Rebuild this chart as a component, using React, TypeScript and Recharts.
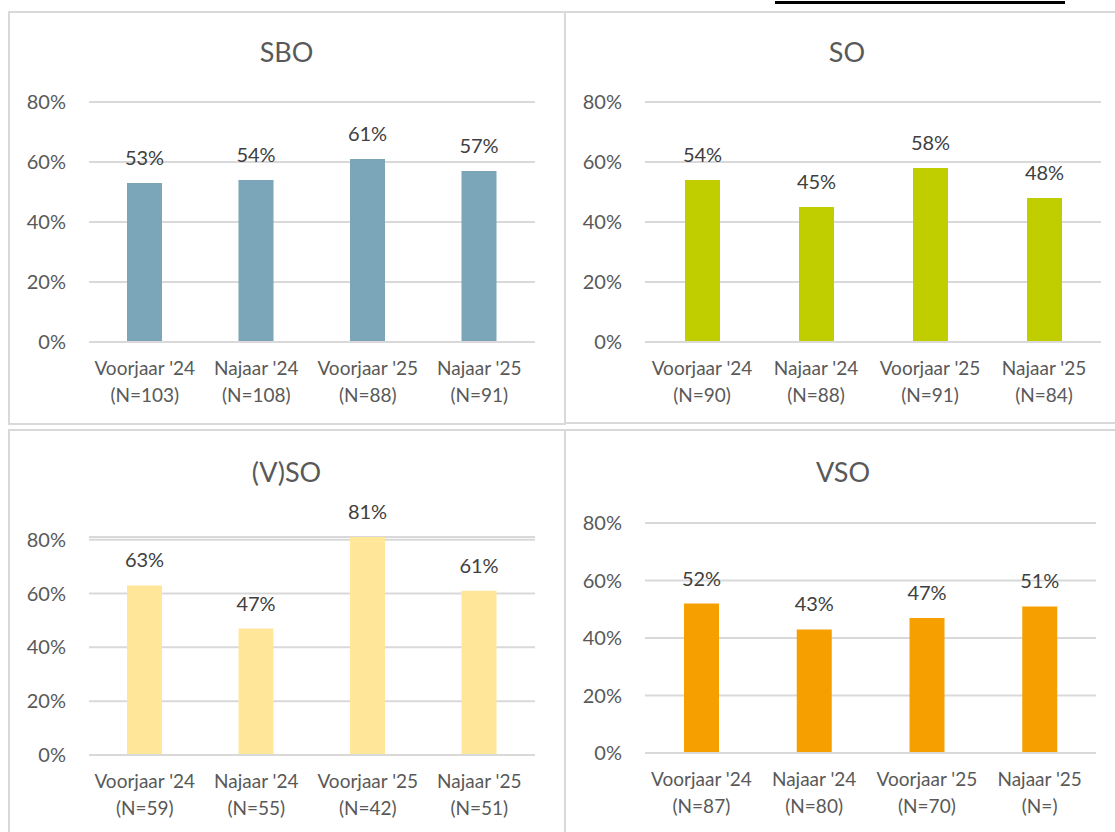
import React from "react";
import { BarChart, Bar, XAxis, YAxis, CartesianGrid, LabelList } from "recharts";

const categories = ["Voorjaar '24", "Najaar '24", "Voorjaar '25", "Najaar '25"];
const yTicks = [0, 0.2, 0.4, 0.6, 0.8];

const sboValues = [0.53, 0.54, 0.61, 0.57];
const sboN = ["103", "108", "88", "91"];
const soValues = [0.54, 0.45, 0.58, 0.48];
const soN = ["90", "88", "91", "84"];
const vsoCombinedValues = [0.63, 0.47, 0.81, 0.61];
const vsoCombinedN = ["59", "55", "42", "51"];
const vsoValues = [0.52, 0.43, 0.47, 0.51];
const vsoN = ["87", "80", "70", ""];

const FONT = "Lato, 'Open Sans', sans-serif";
const GRID = "#D9D9D9";
const TICK = "#595959";
const LABEL = "#404040";
const X_AXIS_H = 30;

type PanelProps = {
  title: string;
  values: number[];
  ns: string[];
  color: string;
  left: number;
  top: number;
  width: number;
  height: number;
  margin: { top: number; right: number; bottom: number; left: number };
  titleTop: number;
  titleLeft: number;
  titleWidth: number;
};

const pct = (v: number) => `${Math.round(v * 100)}%`;

function makeTick(ns: string[]) {
  return (props: any) => {
    const { x, y, payload } = props;
    const i = payload.index;
    return (
      <g>
        <text x={x} y={y} textAnchor="middle" fill={TICK} fontFamily={FONT} fontSize={19}>
          <tspan x={x} dy={33}>{payload.value}</tspan>
          <tspan x={x} dy={27}>{`(N=${ns[i]})`}</tspan>
        </text>
      </g>
    );
  };
}

function Panel(p: PanelProps) {
  const data = categories.map((c, i) => ({ cat: c, value: p.values[i] }));
  const m = { ...p.margin, bottom: p.margin.bottom - X_AXIS_H };
  return (
    <>
      <div
        style={{
          position: "absolute",
          left: p.titleLeft,
          top: p.titleTop,
          width: p.titleWidth,
          textAlign: "center",
          fontFamily: FONT,
          fontSize: 27,
          color: TICK,
          lineHeight: "32px",
        }}
      >
        {p.title}
      </div>
      <div style={{ position: "absolute", left: p.left, top: p.top }}>
        <BarChart width={p.width} height={p.height} data={data} margin={m}>
          <CartesianGrid vertical={false} stroke={GRID} strokeWidth={2} />
          <XAxis
            dataKey="cat"
            height={X_AXIS_H}
            tickLine={false}
            axisLine={{ stroke: GRID, strokeWidth: 2 }}
            tickSize={0}
            tickMargin={0}
            interval={0}
            tick={makeTick(p.ns)}
          />
          <YAxis
            width={81}
            domain={[0, 0.8]}
            ticks={yTicks}
            tickFormatter={pct}
            axisLine={false}
            tickLine={false}
            tickSize={0}
            tickMargin={23}
            tick={{ fill: TICK, fontFamily: FONT, fontSize: 20 }}
          />
          <Bar dataKey="value" fill={p.color} barSize={35} isAnimationActive={false}>
            <LabelList
              dataKey="value"
              position="top"
              offset={18}
              formatter={(v: any) => pct(Number(v))}
              style={{ fill: LABEL, fontFamily: FONT, fontSize: 20 }}
            />
          </Bar>
        </BarChart>
      </div>
    </>
  );
}

const boxStyle = (left: number, top: number, width: number, height: number): React.CSSProperties => ({
  position: "absolute",
  left,
  top,
  width,
  height,
  border: `2px solid ${GRID}`,
  boxSizing: "border-box",
});

export default function App() {
  return (
    <div
      style={{
        position: "absolute",
        left: 0,
        top: 0,
        width: 1115,
        height: 832,
        overflow: "hidden",
        background: "#fff",
        fontFamily: FONT,
      }}
    >
      <div style={{ position: "absolute", left: 775, top: 1, width: 290, height: 3, background: "#000" }} />
      <div style={boxStyle(8, 11, 558, 414)} />
      <div style={boxStyle(564, 11, 560, 413)} />
      <div style={boxStyle(8, 429, 558, 410)} />
      <div style={boxStyle(564, 429, 560, 410)} />

      <Panel
        title="SBO"
        values={sboValues}
        ns={sboN}
        color="#7BA5B8"
        left={8}
        top={11}
        width={557}
        height={413}
        margin={{ top: 91, right: 30, bottom: 82, left: 0 }}
        titleLeft={8}
        titleTop={36}
        titleWidth={557}
      />
      <Panel
        title="SO"
        values={soValues}
        ns={soN}
        color="#C0CE00"
        left={564}
        top={11}
        width={551}
        height={413}
        margin={{ top: 91, right: 14, bottom: 82, left: 0 }}
        titleLeft={564}
        titleTop={36}
        titleWidth={566}
      />
      <Panel
        title="(V)SO"
        values={vsoCombinedValues}
        ns={vsoCombinedN}
        color="#FFE699"
        left={8}
        top={429}
        width={557}
        height={403}
        margin={{ top: 108, right: 30, bottom: 77, left: 0 }}
        titleLeft={8}
        titleTop={456}
        titleWidth={557}
      />
      <Panel
        title="VSO"
        values={vsoValues}
        ns={vsoN}
        color="#F5A000"
        left={564}
        top={429}
        width={551}
        height={403}
        margin={{ top: 94, right: 19, bottom: 79, left: 0 }}
        titleLeft={564}
        titleTop={456}
        titleWidth={558}
      />
    </div>
  );
}
